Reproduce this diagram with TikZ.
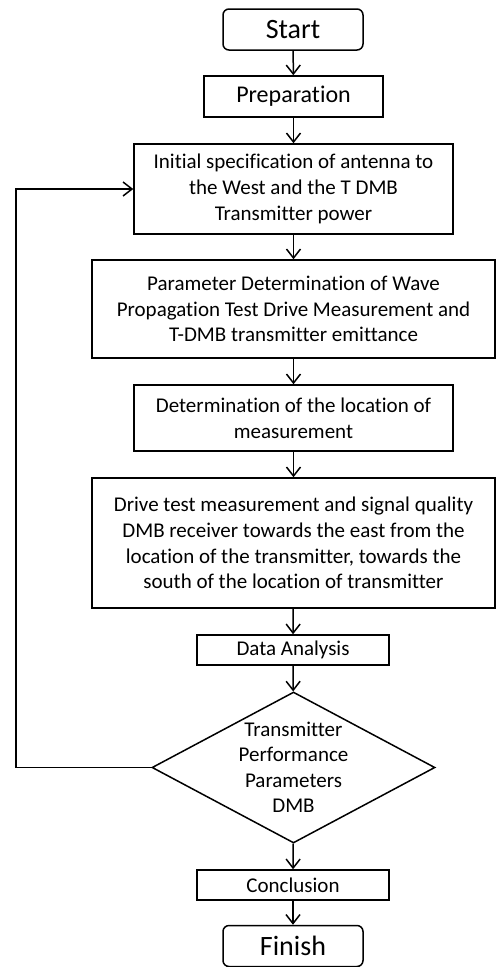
\documentclass[tikz,border=0pt]{standalone}
\usepackage{fontspec}
\setmainfont{Carlito}[Ligatures=NoCommon]
\usetikzlibrary{arrows.meta,shapes.geometric}
\begin{document}
\begin{tikzpicture}[x=1pt,y=1pt,
  box/.style={draw,line width=1.5pt,align=center,inner sep=0pt,font=\fontsize{21}{25.8}\selectfont},
  term/.style={box,rounded corners=6pt,minimum width=140pt,minimum height=41pt,font=\fontsize{28}{32}\selectfont},
  dec/.style={draw,line width=1.5pt,shape=diamond,inner sep=0pt,minimum width=283pt,minimum height=151pt},
  conn/.style={line width=1.5pt,-{Straight Barb[length=9pt,width=14pt,line width=1.5pt]}}
]
\useasboundingbox (0,0) rectangle (497,-967);
\node[term] (start) at (293,-29.5) {Start};
\node[box,minimum width=179pt,minimum height=41pt,font=\fontsize{24}{28}\selectfont] (prep) at (293.5,-96.5) {Preparation};
\node[box,minimum width=319pt,minimum height=90pt] (init) at (293.5,-189) {Initial specification of antenna to\\the West and the T DMB\\Transmitter power};
\node[box,minimum width=403pt,minimum height=98pt] (param) at (293.5,-309) {Parameter Determination of Wave\\Propagation Test Drive Measurement and\\T-DMB transmitter emittance};
\node[box,minimum width=319pt,minimum height=66pt] (loc) at (293.5,-418) {Determination of the location of\\measurement};
\node[box,minimum width=403pt,minimum height=130pt] (drive) at (293.5,-543) {Drive test measurement and signal quality\\DMB receiver towards the east from the\\location of the transmitter, towards the\\south of the location of transmitter};
\node[box,minimum width=192pt,minimum height=30pt] (data) at (293,-650) {Data Analysis};
\node[dec] (dec) at (293.5,-767.5) {};
\node[align=center,inner sep=0pt,font=\fontsize{21}{25.5}\selectfont] (dect) at (293.5,-767.5) {Transmitter\\Performance\\Parameters\\DMB};
\node[box,minimum width=192pt,minimum height=30pt] (concl) at (293,-885) {Conclusion};
\node[term] (finish) at (293,-946) {Finish};
\draw[conn] (start) -- (prep);
\draw[conn] (prep) -- (init);
\draw[conn] (init) -- (param);
\draw[conn] (param) -- (loc);
\draw[conn] (loc) -- (drive);
\draw[conn] (drive) -- (data);
\draw[conn] (data) -- (dec);
\draw[conn] (dec) -- (concl);
\draw[conn] (concl) -- (finish);
\coordinate (lp) at (16,-767.5);
\draw[conn] (dec.west) -- (lp) |- (init.west);
\end{tikzpicture}
\end{document}
